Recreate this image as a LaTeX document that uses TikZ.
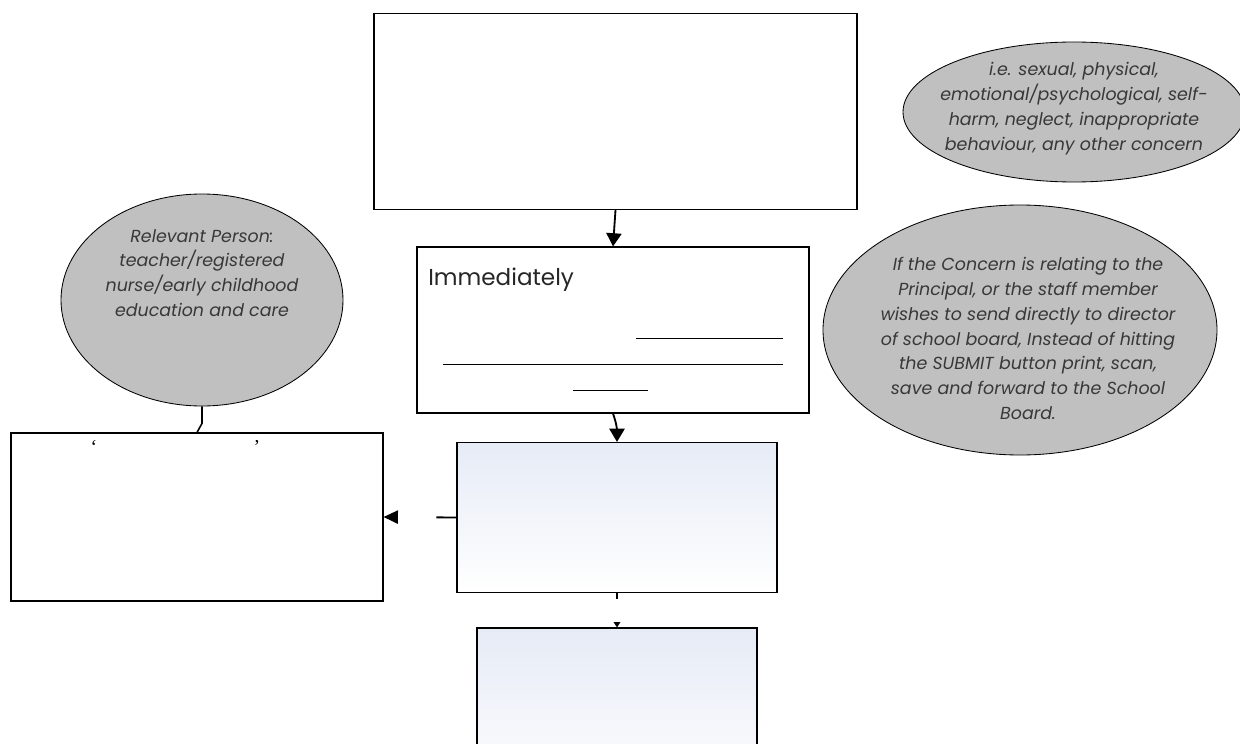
\documentclass[tikz,border=0pt]{standalone}
\usepackage{fontspec}
\setmainfont{Poppins}
\newfontfamily\quotefont{Liberation Serif}
\usetikzlibrary{arrows.meta,shapes.geometric}
\definecolor{bubblegray}{RGB}{192,192,192}
\definecolor{paleblue}{RGB}{230,235,246}
\tikzset{
  box/.style={draw, line width=0.8pt, rectangle, inner sep=0pt},
  shadebox/.style={box, top color=paleblue, bottom color=white},
  bubble/.style={draw, line width=0.6pt, ellipse, fill=bubblegray, inner sep=0pt},
  bubbletext/.style={align=center, text=black!78, inner sep=0pt,
    font=\fontsize{12.4}{17.7}\selectfont\itshape},
  flow/.style={line width=1.3pt, -{Triangle[length=0.33cm,width=0.38cm]}},
  stubflow/.style={line width=1.3pt, dash pattern=on 0.15cm off 2cm,
    -{Triangle[length=0.13cm,width=0.16cm]}},
  sideflow/.style={line width=1.3pt, dash pattern=on 0.5cm off 3cm,
    -{Triangle[length=0.36cm,width=0.33cm]}},
}
\begin{document}
\begin{tikzpicture}
                            \useasboundingbox (0,0) rectangle (31.000000,18.575000);
                            \clip (0,0) rectangle (31.000000,18.575000);

                            % Drawing box report
                            \node [box, minimum width=12.075cm, minimum height=4.900cm] (report) at (15.387500,15.787500) {};%

                            % Drawing box notify
                            \node [box, minimum width=9.800cm, minimum height=4.150cm] (notify) at (15.325000,10.325000) {};%
                            \node [anchor=base west, inner sep=0pt, text=black!85, font=\fontsize{16.4}{19}\selectfont] (immediately) at (10.700000,11.450000) {Immediately};%

                            % Drawing blanks in box notify
                            \draw [line width=0.7pt] (15.900000,10.125000) -- (19.575000,10.125000);%
                            \draw [line width=0.7pt] (11.075000,9.475000) -- (19.575000,9.475000);%
                            \draw [line width=0.7pt] (14.325000,8.825000) -- (16.200000,8.825000);%

                            % Drawing box submit
                            \node [shadebox, minimum width=8.000cm, minimum height=3.750cm] (submit) at (15.425000,5.637500) {};%

                            % Drawing box followup
                            \node [shadebox, minimum width=7.000cm, minimum height=4.300cm] (followup) at (15.425000,0.725000) {};%

                            % Drawing box record
                            \node [box, minimum width=9.300cm, minimum height=4.200cm] (record) at (4.925000,5.650000) {};%
                            \node [inner sep=0pt, font=\quotefont\fontsize{14}{16}\selectfont] (openquote) at (2.350000,7.400000) {‘};%
                            \node [inner sep=0pt, font=\quotefont\fontsize{14}{16}\selectfont] (closequote) at (6.425000,7.400000) {’};%

                            % Drawing ellipse person
                            \node [bubble, minimum width=7.050cm, minimum height=5.300cm] (person) at (5.050000,11.075000) {};%
                            \node [bubbletext] (persontext) at (5.050000,11.750000) {Relevant Person:\\teacher/registered\\nurse/early childhood\\education and care};%

                            % Drawing ellipse concern
                            \node [bubble, minimum width=8.550cm, minimum height=3.500cm] (concern) at (26.850000,15.775000) {};%
                            \node [bubbletext] (concerntext) at (26.850000,15.862500) {i.e. sexual, physical,\\emotional/psychological, self-\\harm, neglect, inappropriate\\behaviour, any other concern};%

                            % Drawing ellipse principal
                            \node [bubble, minimum width=9.850cm, minimum height=6.250cm] (principal) at (25.500000,10.325000) {};%
                            \node [bubbletext] (principaltext) at (25.700000,10.112500) {If the Concern is relating to the\\Principal, or the staff member\\wishes to send directly to director\\of school board, Instead of hitting\\the SUBMIT button print, scan,\\save and forward to the School\\Board.};%

                            % Drawing connectors
                            \draw [flow] (report.south) -- (notify.north);%
                            \draw [flow] (notify.south) to [out=-70, in=90] (submit.north);%
                            \draw [stubflow] (submit.south) -- (followup.north);%
                            \draw [sideflow] (submit.west) -- (record.east);%
                            \draw [line width=1.1pt] (person.south) -- ++(0,-0.425) -- (record.north);%
                        \end{tikzpicture}
\end{document}
